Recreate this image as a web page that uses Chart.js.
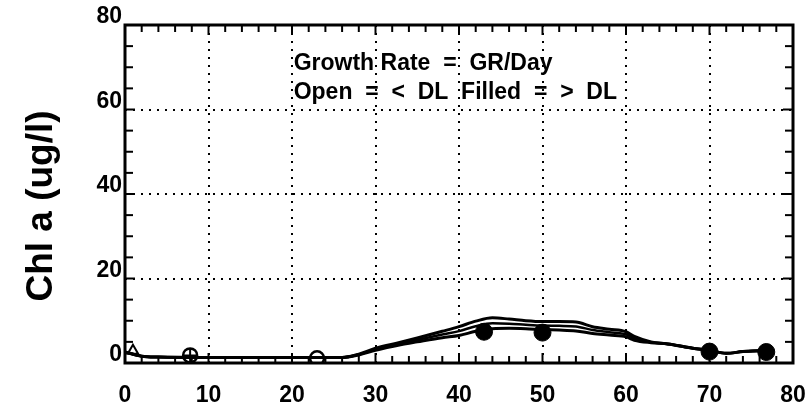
<!DOCTYPE html>
<html><head><meta charset="utf-8">
<script src="https://cdn.jsdelivr.net/npm/chart.js@4"></script>
<style>html,body{margin:0;padding:0;background:#fff;}#wrap{width:810px;height:409px;}</style>
</head><body><div id="wrap"><canvas id="c" width="810" height="409"></canvas></div>
<script>
// ---- data ----
const days      = [0, 2, 4, 10, 20, 26, 28, 30, 33, 35, 38, 40, 42, 44, 46, 48, 50, 52, 54, 56, 58, 60, 61, 63, 65, 68, 70, 72, 74, 76, 77.5];
const upperChl  = [2.6, 1.6, 1.4, 1.3, 1.3, 1.3, 2.1, 3.5, 4.9, 5.9, 7.5, 8.6, 9.9, 10.7, 10.4, 10.0, 9.8, 9.8, 9.7, 8.6, 8.0, 7.4, 6.3, 5.0, 4.5, 3.5, 3.0, 2.3, 2.7, 2.9, 2.6];
const middleChl = [2.6, 1.6, 1.4, 1.3, 1.3, 1.3, 2.0, 3.25, 4.6, 5.45, 6.75, 7.55, 8.7, 9.4, 9.3, 9.05, 8.85, 8.8, 8.65, 7.8, 7.3, 6.8, 5.85, 4.9, 4.5, 3.5, 3.0, 2.3, 2.7, 2.9, 2.6];
const lowerChl  = [2.6, 1.6, 1.4, 1.3, 1.3, 1.3, 1.9, 3.0, 4.3, 5.0, 6.0, 6.5, 7.5, 8.1, 8.2, 8.1, 7.9, 7.8, 7.6, 7.0, 6.6, 6.2, 5.4, 4.8, 4.5, 3.5, 3.0, 2.3, 2.7, 2.9, 2.6];
const triangleDays = [0.95];
const triangleChl  = [2.9];
const openDays  = [7.8, 23];
const openChl   = [1.8, 1.1];
const filledDays = [43, 50, 70, 76.8];
const filledChl  = [7.4, 7.2, 2.7, 2.6];
const xTickLabels = ['0', '10', '20', '30', '40', '50', '60', '70', '80'];
const yTickLabels = ['0', '20', '40', '60', '80'];
const yTitle = 'Chl a (ug/l)';
const noteLines = ['Growth Rate  =  GR/Day', 'Open  =  <  DL  Filled  =  >  DL'];
const notePos = [{x: 20.2, y: 69.3}, {x: 20.2, y: 62.6}];

const pts = (xs, ys) => xs.map((v, i) => ({x: v, y: ys[i]}));
const FONT = '"Liberation Sans", Arial, sans-serif';

const framePlugin = {
  id: 'frame',
  afterLayout(chart) {
    const s = chart.scales.y;
    if (s && !s._titleShifted) {
      const orig = s.drawTitle.bind(s);
      s.drawTitle = function () { const c = this.ctx; c.save(); c.translate(0, 12); orig(); c.restore(); };
      s._titleShifted = true;
    }
  },
  afterDraw(chart) {
    const ctx = chart.ctx;
    const a = chart.chartArea;
    const x = chart.scales.x, y = chart.scales.y;
    ctx.save();
    ctx.setLineDash([]);
    ctx.globalAlpha = 1;
    ctx.strokeStyle = '#000000';
    ctx.lineWidth = 2;
    ctx.lineCap = 'butt';
    const seg = (x1, y1, x2, y2) => { ctx.beginPath(); ctx.moveTo(x1, y1); ctx.lineTo(x2, y2); ctx.stroke(); };
    for (let v = 0; v <= 80; v += 2) {
      const p = x.getPixelForValue(v);
      const len = v % 10 === 0 ? 10 : 7;
      seg(p, a.bottom, p, a.bottom - len);
      seg(p, a.top, p, a.top + len);
    }
    for (let v = 0; v <= 80; v += 5) {
      const p = y.getPixelForValue(v);
      const len = v % 20 === 0 ? 10 : 8;
      seg(a.left, p, a.left + len, p);
      seg(a.right, p, a.right - len, p);
    }
    ctx.lineWidth = 3;
    ctx.strokeRect(a.left, a.top, a.right - a.left, a.bottom - a.top);
    ctx.fillStyle = '#000000';
    ctx.font = 'bold 23px "Liberation Sans"';
    ctx.textBaseline = 'alphabetic';
    ctx.textAlign = 'left';
    noteLines.forEach((t, i) => ctx.fillText(t, x.getPixelForValue(notePos[i].x), y.getPixelForValue(notePos[i].y)));
    ctx.restore();
  }
};

const lineDs = (data, w) => ({
  data: pts(days, data), borderColor: '#000', borderWidth: w, pointRadius: 0,
  tension: 0.35, cubicInterpolationMode: 'monotone', fill: false, showLine: true
});

new Chart(document.getElementById('c'), {
  type: 'scatter',
  data: {
    datasets: [
      {data: pts(filledDays, filledChl), pointStyle: 'circle', pointRadius: 8.5, backgroundColor: '#000', borderColor: '#000', borderWidth: 1, showLine: false},
      {data: pts(openDays, openChl), pointStyle: 'circle', pointRadius: 7, backgroundColor: 'rgba(0,0,0,0)', borderColor: '#000', borderWidth: 2.5, showLine: false},
      {data: pts(openDays.slice(0, 1), openChl.slice(0, 1)), pointStyle: 'cross', pointRadius: 7, borderColor: '#000', borderWidth: 2, showLine: false},
      {data: pts(triangleDays, triangleChl), pointStyle: 'triangle', pointRadius: 6, backgroundColor: 'rgba(0,0,0,0)', borderColor: '#000', borderWidth: 2, showLine: false},
      lineDs(upperChl, 3),
      lineDs(middleChl, 2.5),
      lineDs(lowerChl, 3)
    ]
  },
  options: {
    responsive: false, animation: false, devicePixelRatio: 1,
    layout: {padding: {left: 0, right: 17, top: 25, bottom: 0}},
    plugins: {legend: {display: false}, tooltip: {enabled: false}},
    scales: {
      x: {
        type: 'linear', min: 0, max: 80,
        afterFit: s => { s.height = 46; s.paddingLeft = 0; s.paddingRight = 0; },
        afterBuildTicks: s => { s.ticks = xTickLabels.map(t => ({value: Number(t)})); },
        ticks: {color: '#000', font: {family: FONT, size: 23, weight: 'bold'}, padding: 19, maxRotation: 0, callback: v => xTickLabels[xTickLabels.indexOf(String(v))]},
        grid: {color: '#000', lineWidth: 2, drawTicks: false},
        border: {display: false, dash: [2, 6]}
      },
      y: {
        min: 0, max: 80,
        afterFit: s => { s.width = 125; s.paddingTop = 0; s.paddingBottom = 0; },
        afterBuildTicks: s => { s.ticks = yTickLabels.map(t => ({value: Number(t)})); },
        ticks: {color: '#000', font: {family: FONT, size: 23, weight: 'bold'}, padding: 3, labelOffset: -8, callback: v => yTickLabels[yTickLabels.indexOf(String(v))]},
        grid: {color: '#000', lineWidth: 2, drawTicks: false},
        border: {display: false, dash: [2, 6]},
        title: {display: true, text: yTitle, color: '#000', font: {family: FONT, size: 37, weight: 'bold'}, padding: {top: 20, bottom: 0}}
      }
    }
  },
  plugins: [framePlugin]
});
</script></body></html>
